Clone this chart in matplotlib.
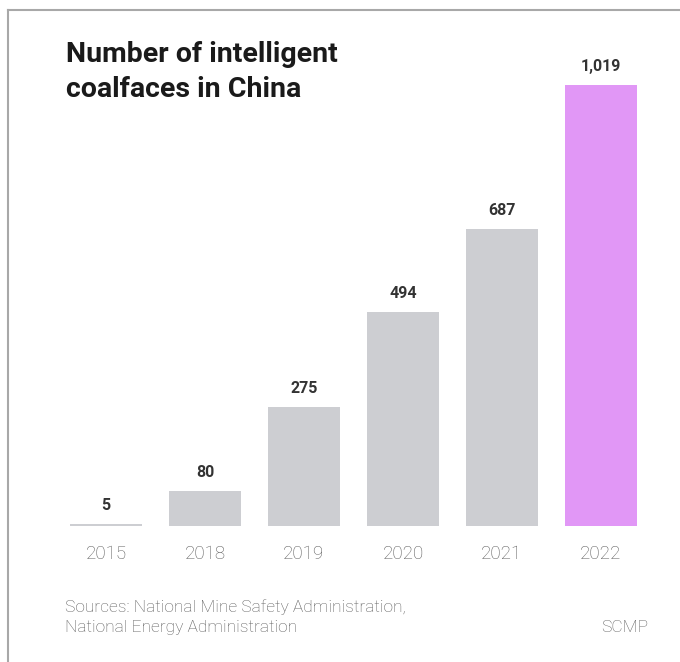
import matplotlib
matplotlib.use("Agg")
import matplotlib.pyplot as plt
from matplotlib.lines import Line2D

years = ["2015", "2018", "2019", "2020", "2021", "2022"]
values = [5, 80, 275, 494, 687, 1019]
value_labels = ["5", "80", "275", "494", "687", "1,019"]
colors = ["#cdced2"] * 5 + ["#e197f6"]

plt.rcParams['font.family'] = ['Roboto', 'DejaVu Sans']

W, H = 680, 662
fig = plt.figure(figsize=(W / 100, H / 100), dpi=100)
fig.patch.set_facecolor("white")

# frame lines (top and left)
fig.add_artist(Line2D([7.5 / W, 1.0], [1 - 9.5 / H, 1 - 9.5 / H], transform=fig.transFigure,
                      color="#a8a8a8", lw=1.5))
fig.add_artist(Line2D([7.5 / W, 7.5 / W], [0, 1 - 9.5 / H], transform=fig.transFigure,
                      color="#a8a8a8", lw=1.5))

ax = fig.add_axes([56.5 / W, 136 / H, 594 / W, 441 / H])
x = list(range(len(years)))
ax.bar(x, values, width=0.72, color=colors)
ax.set_xlim(-0.5, len(years) - 0.5)
ax.set_ylim(0, 1019)
ax.axis("off")

for xi, v, lab in zip(x, values, value_labels):
    ax.annotate(lab, (xi, v), xytext=(0, 8), textcoords="offset points",
                ha="center", va="bottom", fontsize=11.5, fontweight="bold", color="#333333")

for xi, y in zip(x, years):
    ax.text(xi, -28 / 441 * 1019, y, ha="center", va="center", fontsize=13.5,
            color="#5c5c5c", fontweight="light")

fig.text(66 / W, 1 - 62 / H, "Number of intelligent", ha="left", va="baseline",
         fontsize=20.5, fontweight="bold", color="#1a1a1a")
fig.text(66 / W, 1 - 97 / H, "coalfaces in China", ha="left", va="baseline",
         fontsize=20.5, fontweight="bold", color="#1a1a1a")

fig.text(65 / W, 1 - 612 / H, "Sources: National Mine Safety Administration,",
         ha="left", va="baseline", fontsize=12.5, color="#5c5c5c", fontweight="light")
fig.text(65 / W, 1 - 632 / H, "National Energy Administration",
         ha="left", va="baseline", fontsize=12.5, color="#5c5c5c", fontweight="light")
fig.text(648 / W, 1 - 632 / H, "SCMP", ha="right", va="baseline", fontsize=12.5,
         color="#5c5c5c", fontweight="light")

fig.savefig("out.png", dpi=100, facecolor="white")
